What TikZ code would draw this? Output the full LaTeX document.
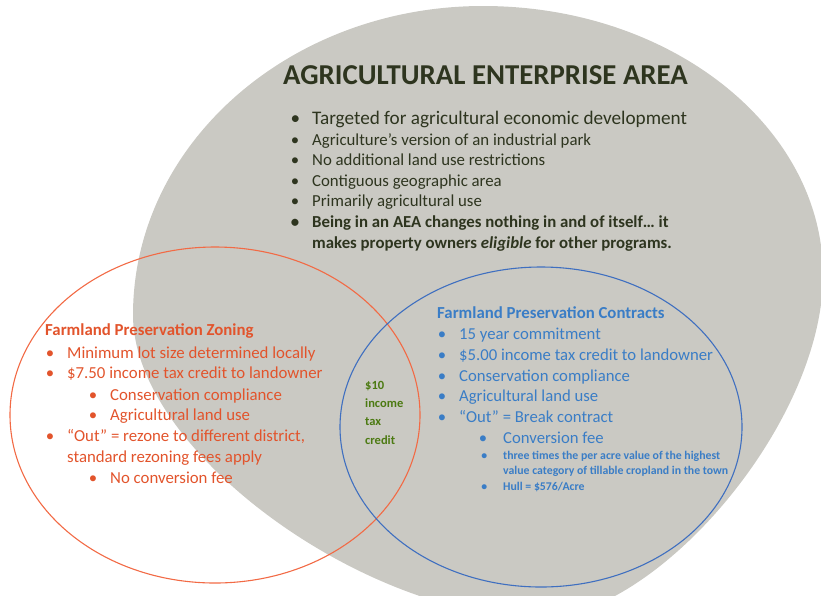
\documentclass[tikz,border=0pt]{standalone}
\usepackage{fontspec}
\usepackage{xcolor}
\setmainfont{Carlito}
\definecolor{aeaGray}{HTML}{CAC9C3}
\definecolor{aeaText}{HTML}{2E351F}
\definecolor{zoneRed}{HTML}{E2542C}
\definecolor{zoneLine}{HTML}{F26A45}
\definecolor{fpcBlue}{HTML}{3A7DC6}
\definecolor{fpcLine}{HTML}{3F6FC0}
\definecolor{creditGreen}{HTML}{4C7A12}
\newcommand{\bul}[1]{\llap{\textbullet\hspace{#1}}}
\tikzset{
  line/.style={anchor=base west, inner sep=0pt},
  aea/.style={line, text=aeaText, font=\fontsize{16.8}{18}\selectfont},
  zone/.style={line, text=zoneRed, font=\fontsize{16.8}{18}\selectfont},
  fpc/.style={line, text=fpcBlue, font=\fontsize{16.7}{18}\selectfont},
  fpcsmall/.style={line, text=fpcBlue, font=\fontsize{11.8}{13}\selectfont\bfseries},
  credit/.style={line, text=creditGreen, font=\fontsize{12.5}{14}\selectfont\bfseries}
}
\begin{document}
\begin{tikzpicture}[x=1pt,y=-1pt]
\useasboundingbox (0,0) rectangle (821,595);
% the three areas
\fill[aeaGray] (483,6) .. controls (671,6) and (823,127) .. (823,275)
  .. controls (823,425) and (655,618) .. (540,618)
  .. controls (365,618) and (133,451) .. (133,315)
  .. controls (133,144) and (290,6) .. (483,6) -- cycle;
\draw[zoneLine, line width=1.1pt] (215,415) ellipse [x radius=205, y radius=168];
\draw[fpcLine, line width=1.1pt] (541,427) ellipse [x radius=201, y radius=160];

% agricultural enterprise area
\node[line, text=aeaText, font=\fontsize{28.8}{30}\selectfont\bfseries] (title) at (283,84) {AGRICULTURAL ENTERPRISE AREA};
\node[aea, font=\fontsize{19.2}{21}\selectfont] (a1) at (312,124) {\bul{12pt}Targeted for agricultural economic development};
\node[aea] (a2) at (312,145) {\bul{13pt}Agriculture’s version of an industrial park};
\node[aea] (a3) at (312,165) {\bul{13pt}No additional land use restrictions};
\node[aea] (a4) at (312,186) {\bul{13pt}Contiguous geographic area};
\node[aea] (a5) at (312,206) {\bul{13pt}Primarily agricultural use};
\node[aea, font=\fontsize{16.8}{18}\selectfont\bfseries] (a6) at (312,227) {\bul{13pt}Being in an AEA changes nothing in and of itself… it};
\node[aea, font=\fontsize{16.8}{18}\selectfont\bfseries] (a7) at (312,248) {makes property owners \textit{eligible} for other programs.};

% farmland preservation zoning
\node[zone, font=\fontsize{16.8}{18}\selectfont\bfseries] (z0) at (45,335) {Farmland Preservation Zoning};
\node[zone] (z1) at (67,358) {\bul{13pt}Minimum lot size determined locally};
\node[zone] (z2) at (67,378) {\bul{13pt}\$7.50 income tax credit to landowner};
\node[zone] (z3) at (110,400) {\bul{13pt}Conservation compliance};
\node[zone] (z4) at (110,420) {\bul{13pt}Agricultural land use};
\node[zone] (z5) at (67,441) {\bul{13pt}“Out” = rezone to different district,};
\node[zone] (z6) at (67,462) {standard rezoning fees apply};
\node[zone] (z7) at (110,483) {\bul{13pt}No conversion fee};

% shared credit
\node[credit] (c1) at (365,389) {\$10};
\node[credit] (c2) at (365,407) {income};
\node[credit] (c3) at (365,425) {tax};
\node[credit] (c4) at (365,444) {credit};

% farmland preservation contracts
\node[fpc, font=\fontsize{16.8}{18}\selectfont\bfseries] (f0) at (437,318) {Farmland Preservation Contracts};
\node[fpc] (f1) at (459,339) {\bul{13pt}15 year commitment};
\node[fpc] (f2) at (459,360) {\bul{13pt}\$5.00 income tax credit to landowner};
\node[fpc] (f3) at (459,381) {\bul{13pt}Conservation compliance};
\node[fpc] (f4) at (459,401) {\bul{13pt}Agricultural land use};
\node[fpc] (f5) at (459,422) {\bul{13pt}“Out” = Break contract};
\node[fpc] (f6) at (503,443) {\bul{16pt}Conversion fee};
\node[fpcsmall] (f7) at (503,459) {\bul{16pt}three times the per acre value of the highest};
\node[fpcsmall] (f8) at (503,474) {value category of tillable cropland in the town};
\node[fpcsmall] (f9) at (503,490) {\bul{16pt}Hull = \$576/Acre};
\end{tikzpicture}
\end{document}
